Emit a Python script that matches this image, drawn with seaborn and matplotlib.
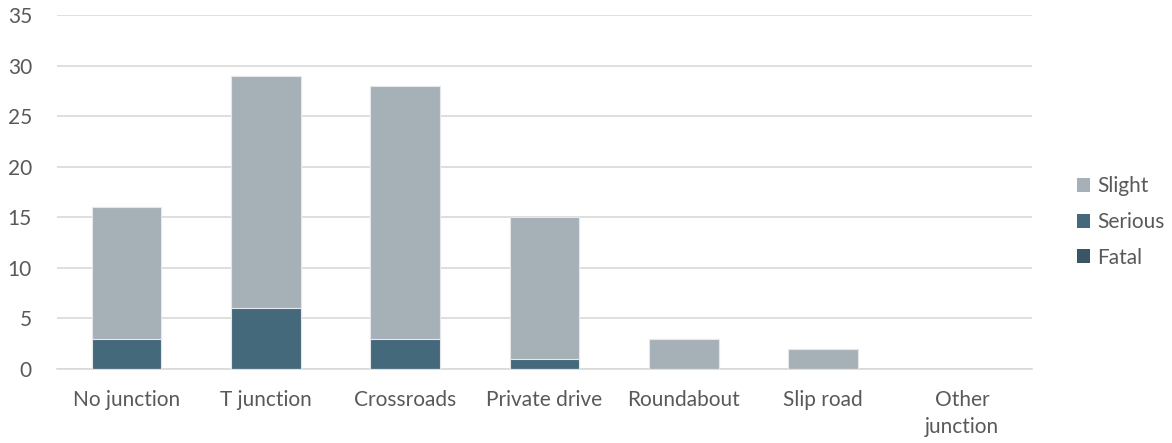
import matplotlib
matplotlib.use("Agg")
import matplotlib.pyplot as plt
from matplotlib.patches import Patch
import seaborn as sns
import pandas as pd

categories = ["No junction", "T junction", "Crossroads", "Private drive",
              "Roundabout", "Slip road", "Other\njunction"]
fatal = [0, 0, 0, 0, 0, 0, 0]
serious = [3, 6, 3, 1, 0, 0, 0]
slight = [13, 23, 25, 14, 3, 2, 0]

colors = {"Slight": "#A6B0B7", "Serious": "#43697A", "Fatal": "#3A5664"}

sns.set_theme(style="white")
plt.rcParams["font.family"] = ["Lato", "DejaVu Sans"]

df = pd.DataFrame({"cat": categories, "fatal": fatal, "serious": serious, "slight": slight})
df["lvl_fatal"] = df["fatal"]
df["lvl_serious"] = df["fatal"] + df["serious"]
df["lvl_slight"] = df["lvl_serious"] + df["slight"]

fig = plt.figure(figsize=(11.72, 4.43), dpi=100)
ax = fig.add_axes([57 / 1172, 1 - 369 / 443, (1032 - 57) / 1172, (369 - 15) / 443])

# stacked bars: draw cumulative totals from top layer down
for col, name in [("lvl_slight", "Slight"), ("lvl_serious", "Serious"), ("lvl_fatal", "Fatal")]:
    sns.barplot(data=df, x="cat", y=col, color=colors[name], width=0.5,
                saturation=1, edgecolor="#E4E8EA", linewidth=0.8, ax=ax, zorder=3)

ax.set_ylim(0, 35)
ax.set_yticks(range(0, 36, 5))
ax.set_xlim(-0.5, len(categories) - 0.5)
ax.set_xlabel("")
ax.set_ylabel("")
ax.grid(axis="y", color="#D9D9D9", linewidth=1.2, zorder=0)
for s in ["top", "right", "left"]:
    ax.spines[s].set_visible(False)
ax.spines["bottom"].set_color("#D9D9D9")
ax.spines["bottom"].set_linewidth(1.2)
ax.tick_params(axis="both", length=0, labelsize=15, colors="#595959")
ax.tick_params(axis="x", pad=15)
ax.tick_params(axis="y", pad=18)
for lbl in ax.get_xticklabels():
    lbl.set_linespacing(1.45)

handles = [Patch(facecolor=colors[n], edgecolor="none", label=n) for n in ["Slight", "Serious", "Fatal"]]
fig.legend(handles=handles, loc="center left", bbox_to_anchor=(1058 / 1172, 1 - 222 / 443),
           frameon=False, fontsize=15, labelcolor="#595959", handlelength=0.65,
           handleheight=0.65, handletextpad=0.35, labelspacing=0.75)

fig.savefig("out.png", dpi=100)
